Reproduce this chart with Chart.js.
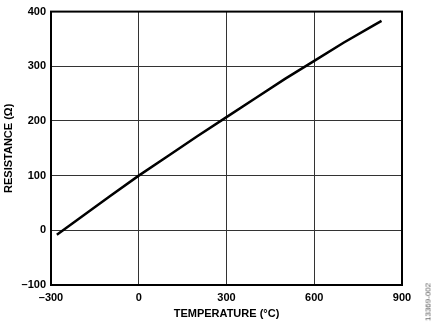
<!DOCTYPE html>
<html>
<head>
<meta charset="utf-8">
<script src="https://cdn.jsdelivr.net/npm/chart.js@4/dist/chart.umd.min.js"></script>
<style>
  body { margin: 0; background: #fff; }
  #wrap { position: relative; width: 435px; height: 324px; }
  #code {
    position: absolute; left: 428px; top: 302px;
    transform: translate(-50%, -50%) rotate(-90deg);
    font: 8px Arial, "Liberation Sans", sans-serif; color: #555; white-space: nowrap;
  }
</style>
</head>
<body>
<div id="wrap">
  <canvas id="chart" width="435" height="324"></canvas>
  <div id="code">13369-002</div>
</div>
<script>
// temperature (°C) vs resistance (Ω)
const temps = [-280, -200, -100, 0, 100, 200, 300, 400, 500, 600, 700, 800, 830];
const resist = [-8, 23, 62, 100, 136, 172, 207, 242, 277, 310, 343, 374, 383];
const xTicks = [-300, 0, 300, 600, 900];
const yTicks = [-100, 0, 100, 200, 300, 400];

const points = temps.map((t, i) => ({ x: t, y: resist[i] }));
const font = { family: 'Arial, "Liberation Sans", sans-serif', size: 11, weight: 'bold' };

const frame = {
  id: 'frame',
  afterDraw(chart) {
    const a = chart.chartArea, c = chart.ctx;
    c.save();
    c.strokeStyle = '#000';
    c.lineWidth = 2;
    c.strokeRect(a.left, a.top, a.right - a.left, a.bottom - a.top);
    c.restore();
  }
};

const ctx = document.getElementById('chart').getContext('2d');
new Chart(ctx, {
  type: 'scatter',
  data: {
    datasets: [{
      data: points,
      showLine: true,
      borderColor: '#000',
      borderWidth: 2.5,
      pointRadius: 0,
      tension: 0
    }]
  },
  options: {
    responsive: false,
    animation: false,
    layout: { padding: { top: 5, right: 33, left: 2, bottom: 3 } },
    plugins: { legend: { display: false }, tooltip: { enabled: false } },
    scales: {
      x: {
        min: -300, max: 900,
        afterBuildTicks: s => { s.ticks = xTicks.map(v => ({ value: v })); },
        afterFit: s => { s.height = 36; },
        grid: { color: '#333', lineWidth: 1, drawTicks: false },
        border: { display: false },
        ticks: {
          color: '#000', font: font, padding: 6, maxRotation: 0,
          callback: v => String(v).replace('-', '\u2013')
        },
        title: { display: true, text: 'TEMPERATURE (°C)', color: '#000', font: font, padding: { top: 0, bottom: 0 } }
      },
      y: {
        min: -100, max: 400,
        afterBuildTicks: s => { s.ticks = yTicks.map(v => ({ value: v })); },
        afterFit: s => { s.width = 49; },
        grid: { color: '#333', lineWidth: 1, drawTicks: false },
        border: { display: false },
        ticks: {
          color: '#000', font: font, padding: 5,
          callback: v => String(v).replace('-', '\u2013')
        },
        title: { display: true, text: 'RESISTANCE (Ω)', color: '#000', font: font, padding: { top: 0, bottom: 0 } }
      }
    }
  },
  plugins: [frame]
});
</script>
</body>
</html>
